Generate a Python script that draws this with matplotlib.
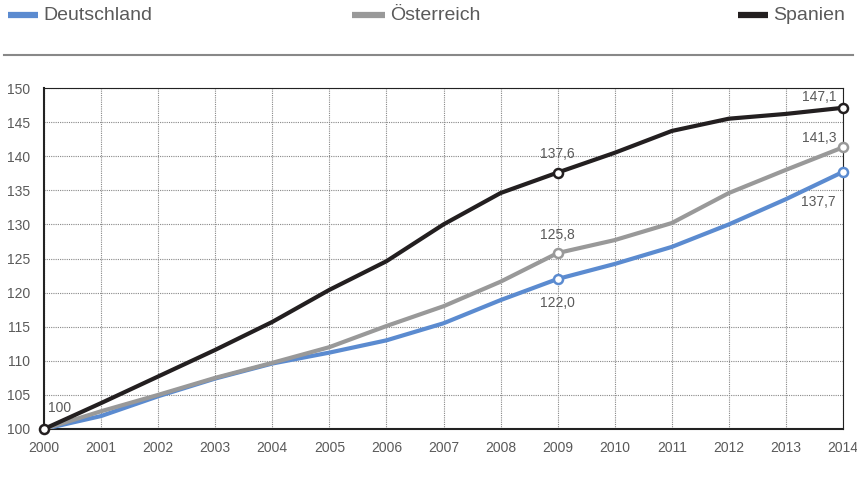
import matplotlib
matplotlib.use("Agg")
import matplotlib.pyplot as plt
from matplotlib.lines import Line2D

# Daten (Index 2000 = 100)
jahre = list(range(2000, 2015))
deutschland = [100, 101.9, 104.8, 107.4, 109.6, 111.2, 113.0, 115.5, 118.9, 122.0,
               124.2, 126.7, 130.0, 133.7, 137.7]
oesterreich = [100, 102.6, 105.0, 107.5, 109.7, 112.0, 115.1, 118.0, 121.6, 125.8,
               127.7, 130.2, 134.6, 138.0, 141.3]
spanien = [100, 103.8, 107.7, 111.6, 115.7, 120.4, 124.6, 130.0, 134.6, 137.6,
           140.5, 143.7, 145.5, 146.2, 147.1]
namen = ["Deutschland", "Österreich", "Spanien"]
farben = ["#5b8bd0", "#999999", "#231f20"]

plt.rcParams['font.family'] = ['Liberation Sans', 'DejaVu Sans']
textfarbe = "#5a5a5a"

W, H = 857, 495
fig = plt.figure(figsize=(W / 100, H / 100), dpi=100)
ax = fig.add_axes([44 / W, 1 - 429 / H, (843 - 44) / W, (429 - 88) / H])

for werte, farbe in zip([deutschland, oesterreich, spanien], farben):
    ax.plot(jahre, werte, color=farbe, lw=3, solid_capstyle='round', zorder=3)

# Markierte Punkte (2009, 2014) + Startpunkt
for werte, farbe in zip([deutschland, oesterreich, spanien], farben):
    for i in [9, 14]:
        ax.plot(jahre[i], werte[i], 'o', ms=6.5, mfc='white', mec=farbe, mew=1.8, zorder=4,
                clip_on=False)
ax.plot(jahre[0], spanien[0], 'o', ms=6.5, mfc='white', mec=farben[2], mew=1.8, zorder=5,
        clip_on=False)

def fmt(v):
    return f"{v:.1f}".replace(".", ",")

beschr = dict(fontsize=10, color=textfarbe, textcoords='offset points')
ax.annotate("100", (jahre[0], 100), xytext=(3, 10), ha='left', va='bottom', **beschr)
ax.annotate(fmt(spanien[9]), (jahre[9], spanien[9]), xytext=(0, 8), ha='center', va='bottom', **beschr)
ax.annotate(fmt(oesterreich[9]), (jahre[9], oesterreich[9]), xytext=(0, 8), ha='center', va='bottom', **beschr)
ax.annotate(fmt(deutschland[9]), (jahre[9], deutschland[9]), xytext=(0, -12), ha='center', va='top', **beschr)
ax.annotate(fmt(spanien[14]), (jahre[14], spanien[14]), xytext=(-5, 3), ha='right', va='bottom', **beschr)
ax.annotate(fmt(oesterreich[14]), (jahre[14], oesterreich[14]), xytext=(-5, 2), ha='right', va='bottom', **beschr)
ax.annotate(fmt(deutschland[14]), (jahre[14], deutschland[14]), xytext=(-5, -17), ha='right', va='top', **beschr)

ax.set_xlim(2000, 2014)
ax.set_ylim(100, 150)
ax.set_xticks(jahre)
ax.set_yticks(range(100, 151, 5))
ax.tick_params(length=0, labelsize=10, colors=textfarbe)
ax.tick_params(axis='x', pad=9)
ax.tick_params(axis='y', pad=10)
ax.grid(True, color="#888888", ls=(0, (1, 1)), lw=0.8)
for s in ax.spines.values():
    s.set_color("#222222")
    s.set_linewidth(0.8)
ax.spines['left'].set_linewidth(1.5)
ax.spines['bottom'].set_linewidth(1.5)

# Legende oben (Positionen in Pixeln)
leg_pos = [(8, 38, 43), (352, 385, 390), (738, 768, 773)]
y_leg = 1 - 15 / H
for (x0, x1, xt), n, f in zip(leg_pos, namen, farben):
    fig.add_artist(Line2D([x0 / W, x1 / W], [y_leg, y_leg], color=f, lw=4.5,
                          solid_capstyle='butt'))
    fig.text(xt / W, y_leg, n, fontsize=14, color=textfarbe, ha='left', va='center')

fig.add_artist(Line2D([0.005, 0.995], [1 - 55 / H, 1 - 55 / H], color="#888888", lw=1.5))

fig.savefig("out.png", dpi=100)
